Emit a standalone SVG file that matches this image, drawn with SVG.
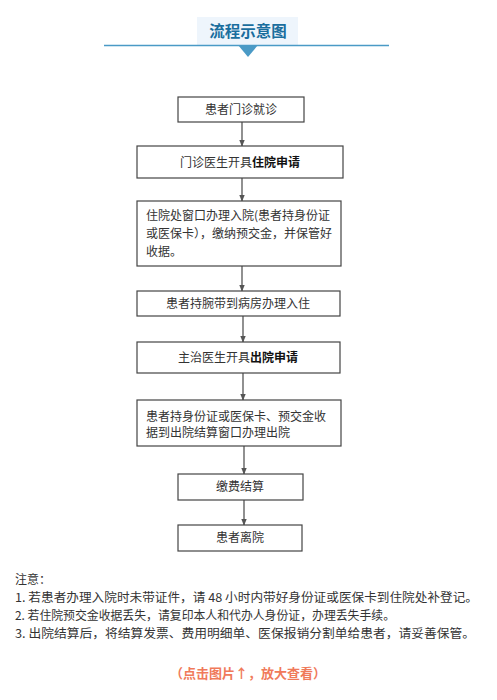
<svg xmlns="http://www.w3.org/2000/svg" width="497" height="700" viewBox="0 0 497 700">
<style>
.box{fill:#fff;stroke:#444;stroke-width:1.2}
.t{font-family:"Noto Sans CJK SC","Liberation Sans",sans-serif;font-size:12px;fill:#333}
.c{text-anchor:middle}
.b{font-weight:bold;fill:#111}
.n{font-family:"Noto Sans CJK SC","Liberation Sans",sans-serif;font-size:12px;fill:#333}
.conn{stroke:#555;stroke-width:1.3;fill:none;marker-end:url(#ah)}
</style>
<defs>
<marker id="ah" viewBox="0 0 10 10" refX="9" refY="5" markerWidth="7" markerHeight="7" markerUnits="userSpaceOnUse" orient="auto">
<path d="M0,1 L10,5 L0,9 Z" fill="#555"/>
</marker>
</defs>
<rect width="497" height="700" fill="#fff"/>
<g id="title">
<rect x="197" y="17" width="101" height="28" fill="#eef5fc"/>
<line x1="104" y1="45.5" x2="389" y2="45.5" stroke="#4a9ac6" stroke-width="1.6"/>
<polygon points="238,45 258,45 248,57" fill="#4a9ac6"/>
<text x="248" y="37" text-anchor="middle" font-family="Noto Sans CJK SC,sans-serif" font-size="15.5" font-weight="bold" fill="#1a6e9e">流程示意图</text>
</g>
<g id="connectors">
<line class="conn" x1="242" y1="122" x2="242" y2="146"/>
<line class="conn" x1="242" y1="178" x2="242" y2="201"/>
<line class="conn" x1="242" y1="266" x2="242" y2="291"/>
<line class="conn" x1="243" y1="316" x2="243" y2="342"/>
<line class="conn" x1="243" y1="373" x2="243" y2="400"/>
<line class="conn" x1="244" y1="446" x2="244" y2="474"/>
<line class="conn" x1="244" y1="500" x2="244" y2="525"/>
</g>
<g id="n1"><rect class="box" x="178" y="97" width="126" height="25"/><text class="t c" x="241" y="114">患者门诊就诊</text></g>
<g id="n2"><rect class="box" x="137" y="146" width="206" height="32"/><text class="t c" x="240" y="167">门诊医生开具<tspan class="b">住院申请</tspan></text></g>
<g id="n3"><rect class="box" x="137" y="201" width="204" height="65"/>
<text class="t" x="146" y="220">住院处窗口办理入院(患者持身份证</text>
<text class="t" x="146" y="238">或医保卡），缴纳预交金，并保管好</text>
<text class="t" x="146" y="256">收据。</text></g>
<g id="n4"><rect class="box" x="137" y="291" width="203" height="25"/><text class="t c" x="238" y="308">患者持腕带到病房办理入住</text></g>
<g id="n5"><rect class="box" x="137" y="342" width="203" height="31"/><text class="t c" x="238" y="362">主治医生开具<tspan class="b">出院申请</tspan></text></g>
<g id="n6"><rect class="box" x="137" y="400" width="204" height="46"/>
<text class="t" x="146" y="421">患者持身份证或医保卡、预交金收</text>
<text class="t" x="146" y="437">据到出院结算窗口办理出院</text></g>
<g id="n7"><rect class="box" x="178" y="474" width="125" height="26"/><text class="t c" x="240" y="491">缴费结算</text></g>
<g id="n8"><rect class="box" x="178" y="525" width="124" height="26"/><text class="t c" x="240" y="542">患者离院</text></g>
<g id="notes">
<text class="n" x="15" y="584">注意：</text>
<text class="n" x="15" y="602" textLength="463" lengthAdjust="spacingAndGlyphs">1. 若患者办理入院时未带证件，请 48 小时内带好身份证或医保卡到住院处补登记。</text>
<text class="n" x="15" y="620" textLength="380" lengthAdjust="spacingAndGlyphs">2. 若住院预交金收据丢失，请复印本人和代办人身份证，办理丢失手续。</text>
<text class="n" x="15" y="638" textLength="460" lengthAdjust="spacingAndGlyphs">3. 出院结算后，将结算发票、费用明细单、医保报销分割单给患者，请妥善保管。</text>
</g>
<text x="248" y="678" text-anchor="middle" font-family="Noto Sans CJK SC,sans-serif" font-size="13" font-weight="bold" fill="#f07a5a">（点击图片↑，放大查看）</text>
</svg>
